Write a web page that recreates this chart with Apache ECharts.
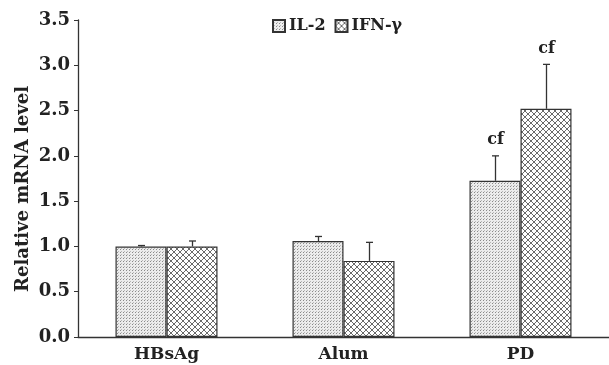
<!DOCTYPE html>
<html><head><meta charset="utf-8">
<script src="https://cdn.jsdelivr.net/npm/echarts@6/dist/echarts.min.js"></script>
<style>html,body{margin:0;padding:0;background:#fff}#c{width:609px;height:365px}</style>
</head><body><div id="c"></div>
<script>
const categories = ['HBsAg', 'Alum', 'PD'];
const il2 = [1.00, 1.06, 1.725];
const il2Err = [0.01, 0.05, 0.275];
const ifn = [1.00, 0.84, 2.52];
const ifnErr = [0.06, 0.205, 0.49];
const il2Notes = ['', '', 'cf'];
const ifnNotes = ['', '', 'cf'];
const yTitle = 'Relative mRNA level';

function dotPattern() {
  const c = document.createElement('canvas'); c.width = 3; c.height = 3;
  const g = c.getContext('2d');
  g.fillStyle = '#ececec'; g.fillRect(0, 0, 3, 3);
  g.fillStyle = '#8a8a8a'; g.fillRect(0, 0, 1, 1);
  g.fillStyle = '#b8b8b8'; g.fillRect(1, 2, 1, 1);
  return c;
}
function hatchPattern() {
  const s = 6;
  const c = document.createElement('canvas'); c.width = s; c.height = s;
  const g = c.getContext('2d');
  g.fillStyle = '#ffffff'; g.fillRect(0, 0, s, s);
  g.strokeStyle = '#6a6a6a'; g.lineWidth = 1;
  g.beginPath();
  g.moveTo(0, 0); g.lineTo(s, s);
  g.moveTo(s, 0); g.lineTo(0, s);
  g.stroke();
  return c;
}
const dotFill = { image: dotPattern(), repeat: 'repeat' };
const hatchFill = { image: hatchPattern(), repeat: 'repeat' };

const font = 'DejaVu Serif';
const chart = echarts.init(document.getElementById('c'));

function errSeries(vals, errs, notes, offset) {
  return {
    type: 'custom',
    z: 5,
    silent: true,
    data: vals.map((v, i) => [i, v, v + errs[i]]),
    renderItem: function (params, api) {
      const base = api.coord([api.value(0), api.value(1)]);
      const top = api.coord([api.value(0), api.value(2)]);
      const x = Math.round(base[0] + offset) + 0.5;
      const note = notes[params.dataIndex];
      const children = [
        { type: 'line', shape: { x1: x, y1: base[1], x2: x, y2: top[1] }, style: { stroke: '#333', lineWidth: 1.3 } },
        { type: 'line', shape: { x1: x - 3.5, y1: top[1], x2: x + 3.5, y2: top[1] }, style: { stroke: '#333', lineWidth: 1.3 } }
      ];
      if (note) {
        children.push({ type: 'text', x: x, y: top[1] - 8, style: { text: note, fill: '#222', font: 'bold 16px "' + font + '"', align: 'center', verticalAlign: 'bottom' } });
      }
      return { type: 'group', children: children };
    }
  };
}

chart.setOption({
  animation: false,
  grid: { left: 78, right: -3, top: 20, bottom: 28 },
  legend: {
    top: 13, left: 267, itemWidth: 12, itemHeight: 12, itemGap: 9,
    textStyle: { fontFamily: font, fontWeight: 'bold', fontSize: 16, color: '#222', padding: [0, 0, 0, -1] },
    data: [{ name: 'IL-2', icon: 'rect' }, { name: 'IFN-γ', icon: 'rect' }]
  },
  graphic: [{
    type: 'text', x: 23, y: 189, rotation: Math.PI / 2,
    style: { text: yTitle, font: 'bold 18px "' + font + '"', fill: '#222', align: 'center', verticalAlign: 'middle' }
  }],
  xAxis: {
    type: 'category', data: categories,
    axisLine: { lineStyle: { color: '#333', width: 1.3 } },
    axisTick: { show: false },
    axisLabel: { fontFamily: font, fontWeight: 'bold', fontSize: 17, color: '#222', margin: 9 }
  },
  yAxis: {
    type: 'value', min: 0, max: 3.5, interval: 0.5,
    axisLine: { show: true, lineStyle: { color: '#333', width: 1.3 } },
    axisTick: { show: true, length: 4, lineStyle: { color: '#333' } },
    splitLine: { show: false },
    axisLabel: { fontFamily: font, fontWeight: 'bold', fontSize: 18, color: '#222', margin: 8,
      formatter: v => v.toFixed(1) }
  },
  series: [
    { name: 'IL-2', type: 'bar', data: il2, barWidth: 51, barGap: '0%',
      itemStyle: { color: dotFill, borderColor: '#333', borderWidth: 1.2 } },
    { name: 'IFN-γ', type: 'bar', data: ifn, barWidth: 51, barGap: '0%',
      itemStyle: { color: hatchFill, borderColor: '#333', borderWidth: 1.2 } },
    errSeries(il2, il2Err, il2Notes, -25.5),
    errSeries(ifn, ifnErr, ifnNotes, 25.5)
  ]
});
</script></body></html>
